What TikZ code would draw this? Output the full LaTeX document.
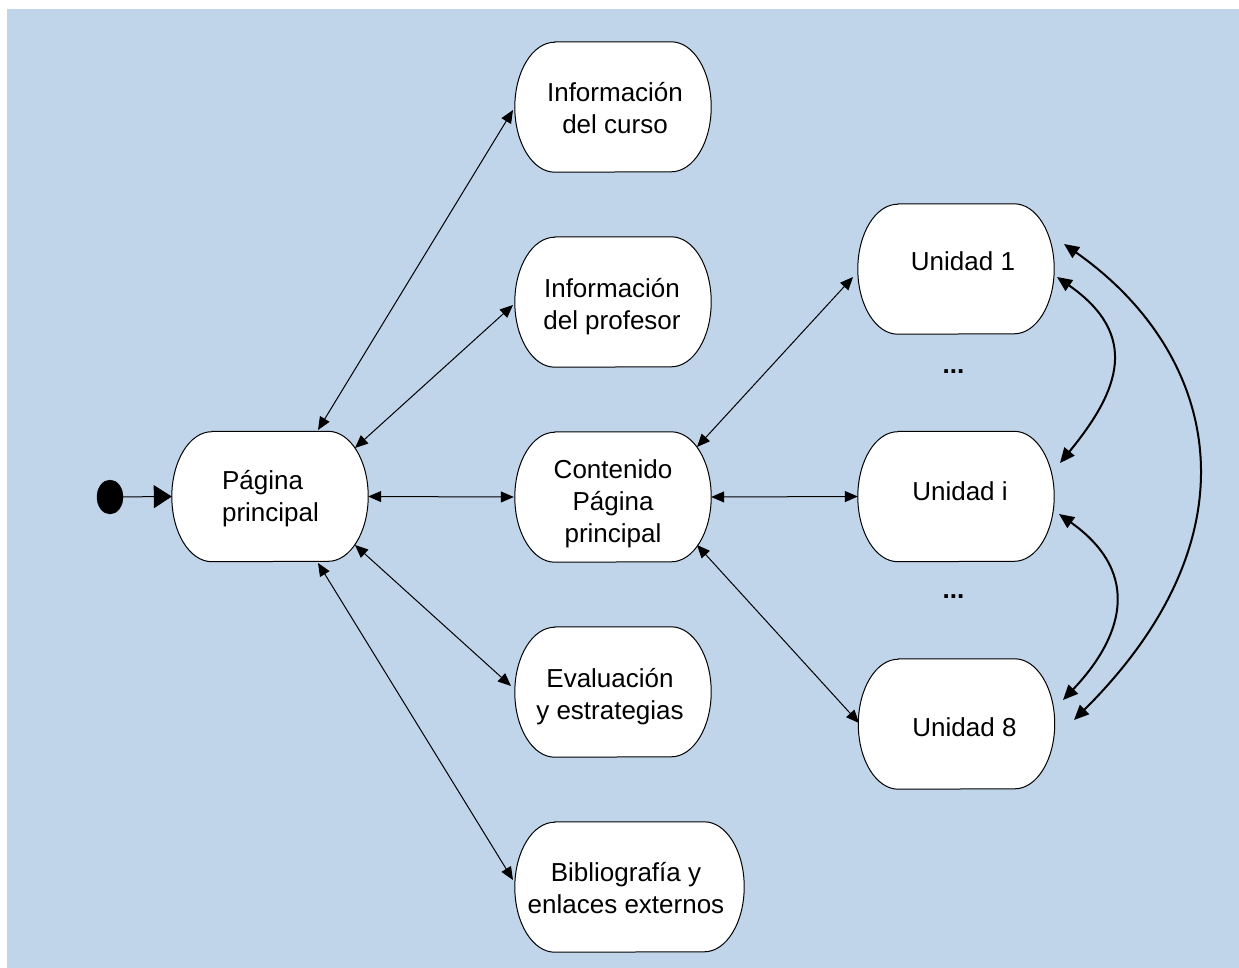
\documentclass[tikz,border=0pt]{standalone}
\usepackage{fontspec}
\setmainfont{Liberation Sans}
\usetikzlibrary{arrows.meta,shapes.geometric}
\definecolor{bg}{RGB}{192,212,234}
\tikzset{
  shp/.style={draw=black, fill=white, line width=1pt},
  anch/.style={minimum height=130pt, inner sep=0pt, draw=none},
  lbl/.style={font=\fontsize{26}{32}\selectfont, align=center, inner sep=0pt},
  conn/.style={line width=1pt, {Triangle[length=13pt,width=11pt]}-{Triangle[length=13pt,width=11pt]}},
  curv/.style={line width=2pt, {Triangle[length=15pt,width=13pt]}-{Triangle[length=15pt,width=13pt]}},
  startdot/.style={ellipse, draw=black, fill=black, minimum width=26pt, minimum height=34pt, inner sep=0pt},
  dots/.style={font=\fontsize{26}{32}\selectfont\bfseries, inner sep=0pt},
}
\newcommand\stadium[4]{%
  \node[anch, minimum width=#4pt] (#1) at (#2,#3) {};
  \draw[shp] ([xshift=40pt]#1.north west) -- ([xshift=-40pt]#1.north east)
    arc[start angle=90, end angle=-90, x radius=40pt, y radius=65pt]
    -- ([xshift=40pt]#1.south west)
    arc[start angle=270, end angle=90, x radius=40pt, y radius=65pt] -- cycle;
}
\begin{document}
\begin{tikzpicture}[x=1pt,y=1pt]
\path[use as bounding box] (0,0) rectangle (1239,-967);
\fill[bg] (7,-9) rectangle (1240,-968);

\stadium{pp}{270}{-496.5}{196}
\stadium{ic}{613}{-107}{196}
\stadium{ip}{613}{-302}{196}
\stadium{cp}{613}{-497}{196}
\stadium{ev}{613}{-692}{196}
\stadium{bib}{629.5}{-887}{229}
\stadium{u1}{956}{-269}{196}
\stadium{ui}{956}{-496.5}{196}
\stadium{u8}{956.5}{-724}{196}

\node[lbl, align=left] (tpp) at (270.5,-499) {Página\\principal};
\node[lbl] (tic) at (615,-108) {Información\\del curso};
\node[lbl] (tip) at (612,-307) {Información\\del profesor};
\node[lbl] (tcp) at (613,-504) {Contenido\\Página\\principal};
\node[lbl] (tev) at (610,-697) {Evaluación\\y estrategias};
\node[lbl] (tbib) at (626,-888) {Bibliografía y\\enlaces externos};
\node[lbl] (tu1) at (963,-261) {Unidad 1};
\node[lbl] (tui) at (960,-491) {Unidad i};
\node[lbl] (tu8) at (964.5,-727) {Unidad 8};
\node[dots] (d1) at (953.5,-372) {...};
\node[dots] (d2) at (953.5,-597) {...};

\node[startdot] (s) at (110,-497) {};
\draw[line width=1pt, -{Triangle[length=18pt,width=23pt]}] (s) -- (pp.west);

\draw[conn] ([shift={(48,66.5)}]pp.center) -- ([shift={(-100,-3)}]ic.center);
\draw[conn] ([shift={(85,48.5)}]pp.center) -- ([shift={(-100,-3)}]ip.center);
\draw[conn] (pp.east) -- ([xshift=-1pt]cp.west);
\draw[conn] ([shift={(85,-48.5)}]pp.center) -- ([shift={(-102,6)}]ev.center);
\draw[conn] ([shift={(48,-66.5)}]pp.center) -- ([shift={(-116.5,7)}]bib.center);
\draw[conn] ([shift={(84,50)}]cp.center) -- ([shift={(-103,-8)}]u1.center);
\draw[conn] (cp.east) -- (ui.west);
\draw[conn] ([shift={(84,-48)}]cp.center) -- ([shift={(-97.5,1)}]u8.center);

\draw[curv] ([shift={(101,-8)}]u1.center) .. controls (1140,-335) and (1120,-390) .. ([shift={(104,33.5)}]ui.center);
\draw[curv] ([shift={(103,-17.5)}]ui.center) .. controls (1145,-575) and (1120,-640) .. ([shift={(106.5,24)}]u8.center);
\draw[curv] ([shift={(108,25)}]u1.center) .. controls (1215,-350) and (1265,-530) .. ([shift={(117.5,4)}]u8.center);
\end{tikzpicture}
\end{document}
